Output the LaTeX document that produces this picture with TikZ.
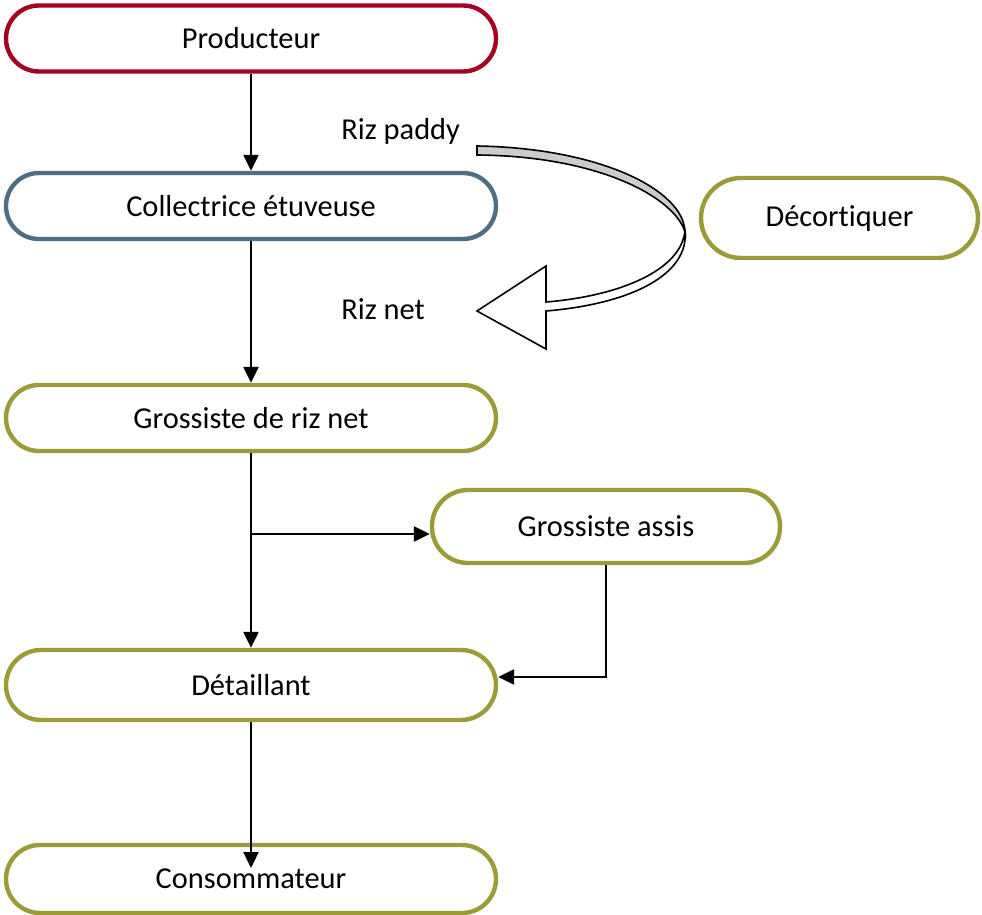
\documentclass[tikz,border=0pt]{standalone}
\usepackage{fontspec}
\setmainfont{Carlito}[Ligatures=NoCommon]
\usetikzlibrary{arrows.meta,calc}
\definecolor{cred}{RGB}{165,0,33}
\definecolor{cblue}{RGB}{80,110,130}
\definecolor{colive}{RGB}{155,155,55}
\begin{document}
\begin{tikzpicture}[x=0.5pt,y=-0.5pt,
  box/.style={draw, line width=2.2pt, rounded corners=16.5pt, minimum width=245pt, minimum height=33pt, inner sep=0pt, fill=white, font=\fontsize{15.2}{18}\selectfont},
  flow/.style={line width=1.2pt, -{Triangle[length=8pt,width=7.5pt]}},
  lbl/.style={font=\fontsize{15.2}{18}\selectfont, inner sep=0pt, anchor=west},
  bandline/.style={line width=0.8pt, line join=miter}]
\useasboundingbox (0,0) rectangle (982,915);
% boxes
\node[box, draw=cred] (prod) at (251,38.5) {Producteur};
\node[box, draw=cblue] (coll) at (251,206) {Collectrice étuveuse};
\node[box, draw=colive, minimum width=138.5pt, minimum height=40pt, rounded corners=20pt] (dec) at (839.5,218) {Décortiquer};
\node[box, draw=colive] (gros) at (251,418) {Grossiste de riz net};
\node[box, draw=colive, minimum width=174pt, minimum height=36.5pt, rounded corners=18pt] (assis) at (606,526.5) {Grossiste assis};
\node[box, draw=colive, minimum height=35pt, rounded corners=17.5pt] (det) at (251,685) {Détaillant};
\node[box, draw=colive, minimum height=34pt, rounded corners=17pt] (cons) at (251,879) {Consommateur};
% labels
\node[lbl] (rp) at (341,131) {Riz paddy};
\node[lbl] (rn) at (341,309) {Riz net};
% connectors
\draw[flow] (prod.south) -- (coll.north);
\draw[flow] (coll.south) -- (gros.north);
\draw[flow] (gros.south) -- (det.north);
\coordinate (br) at (251,534);
\draw[flow] (br) -- (br -| assis.west);
\coordinate (c1) at (604,677);
\draw[flow] (assis.south) -- (assis.south |- c1) -- (det.east |- c1);
\coordinate (ct) at ($(cons.center)+(0,-11)$);
\draw[flow] (det.south) -- (ct);
% curved block arrow
\draw[bandline, fill=gray!40] (477,146) .. controls (600,148) and (684,190) .. (685,232)
   .. controls (675,198) and (600,156) .. (477,155) -- cycle;
\draw[bandline, fill=white] (685,230) .. controls (690,275) and (630,304) .. (546,311)
   -- (546,349) -- (477,311) -- (546,266) -- (546,302)
   .. controls (620,296) and (682,270) .. (685,230) -- cycle;
\end{tikzpicture}
\end{document}
